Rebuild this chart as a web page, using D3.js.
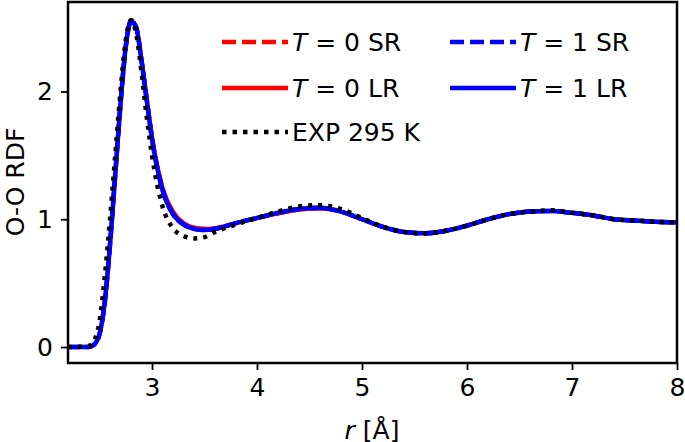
<!DOCTYPE html><html><head><meta charset="utf-8"><script src="https://d3js.org/d3.v7.min.js"></script>
<style>body{margin:0;background:#fff}text{font-family:"DejaVu Sans",sans-serif}</style></head><body><svg width="685" height="442"></svg>
<script>
const r   = [2.2,2.4,2.45,2.5,2.55,2.6,2.65,2.7,2.75,2.8,2.85,2.9,2.95,3.0,3.1,3.2,3.3,3.4,3.5,3.6,3.8,4.0,4.2,4.4,4.6,4.8,5.0,5.2,5.4,5.6,5.8,6.0,6.2,6.4,6.6,6.8,7.0,7.2,7.4,7.6,7.8,8.0];
const simT0 = [0,0,0.02,0.1,0.35,0.8,1.35,1.9,2.35,2.55,2.5,2.25,1.95,1.65,1.25,1.06,0.97,0.935,0.925,0.93,0.97,1.01,1.045,1.075,1.085,1.06,1.0,0.94,0.9,0.89,0.91,0.95,1.0,1.04,1.06,1.065,1.05,1.03,1.0,0.99,0.98,0.975];
const simT1 = [0,0,0.02,0.1,0.35,0.8,1.35,1.9,2.35,2.55,2.5,2.24,1.93,1.63,1.23,1.04,0.96,0.925,0.915,0.925,0.97,1.01,1.05,1.08,1.09,1.06,1.0,0.94,0.9,0.89,0.91,0.95,1.0,1.04,1.06,1.065,1.05,1.03,1.0,0.99,0.98,0.975];
const exp = [0,0.01,0.05,0.2,0.55,1.0,1.5,2.0,2.4,2.56,2.45,2.15,1.8,1.5,1.1,0.93,0.87,0.85,0.86,0.9,0.96,1.01,1.06,1.1,1.11,1.08,1.01,0.94,0.9,0.89,0.91,0.95,1.0,1.04,1.06,1.07,1.05,1.03,1.0,0.99,0.98,0.975];
const xTicks=[3,4,5,6,7,8], yTicks=[0,1,2];
const svg=d3.select("svg");
const x=d3.scaleLinear().domain([2.2,8]).range([68,677]);
const y=d3.scaleLinear().domain([-0.125,2.7]).range([363,2]);
const line=v=>d3.line().x((d,i)=>x(r[i])).y(d=>y(d)).curve(d3.curveMonotoneX)(v);
const series=[
 {v:simT0,c:"red",dash:null,w:4},
 {v:simT0,c:"red",dash:"12,5",w:4},
 {v:simT1,c:"blue",dash:null,w:4.5},
 {v:simT1,c:"blue",dash:"12,5",w:4.5},
 {v:exp,c:"black",dash:"4,6",w:4.5}];
series.forEach(s=>svg.append("path").attr("d",line(s.v)).attr("fill","none").attr("stroke",s.c).attr("stroke-width",s.w).attr("stroke-dasharray",s.dash));
const fs=25;
svg.append("g").attr("transform","translate(0,363)").call(d3.axisBottom(x).tickValues(xTicks).tickSize(7).tickPadding(8).tickFormat(d3.format("d")))
 .call(g=>{g.select(".domain").remove();g.selectAll("text").attr("font-size",fs).attr("fill","#000");g.selectAll("line").attr("stroke-width",1.8)});
svg.append("g").attr("transform","translate(68,0)").call(d3.axisLeft(y).tickValues(yTicks).tickSize(7).tickPadding(8).tickFormat(d3.format("d")))
 .call(g=>{g.select(".domain").remove();g.selectAll("text").attr("font-size",fs).attr("fill","#000");g.selectAll("line").attr("stroke-width",1.8)});
svg.append("rect").attr("x",68).attr("y",2).attr("width",609).attr("height",361).attr("fill","none").attr("stroke","#000").attr("stroke-width",2.5);
svg.append("text").attr("transform","translate(24,182) rotate(-90)").attr("text-anchor","middle").attr("font-size",fs).text("O-O RDF");
const xl=svg.append("text").attr("x",372).attr("y",439).attr("text-anchor","middle").attr("font-size",fs);
xl.append("tspan").attr("font-style","italic").text("r");xl.append("tspan").text(" [Å]");
const leg=[
 {x:222,y:42,c:"red",dash:"14,6",T:"0",s:"SR"},
 {x:450,y:42,c:"blue",dash:"14,6",T:"1",s:"SR"},
 {x:222,y:88,c:"red",dash:null,T:"0",s:"LR"},
 {x:450,y:88,c:"blue",dash:null,T:"1",s:"LR"}];
leg.forEach(l=>{
 svg.append("line").attr("x1",l.x).attr("x2",l.x+66).attr("y1",l.y).attr("y2",l.y).attr("stroke",l.c).attr("stroke-width",4.5).attr("stroke-dasharray",l.dash);
 const t=svg.append("text").attr("x",l.x+70).attr("y",l.y+9).attr("font-size",fs);
 t.append("tspan").attr("font-style","italic").text("T");t.append("tspan").text(" = "+l.T+" "+l.s);
});
svg.append("line").attr("x1",222).attr("x2",288).attr("y1",132).attr("y2",132).attr("stroke","#000").attr("stroke-width",4.5).attr("stroke-dasharray","4.5,6");
svg.append("text").attr("x",292).attr("y",141).attr("font-size",fs).text("EXP 295 K");
</script></body></html>
